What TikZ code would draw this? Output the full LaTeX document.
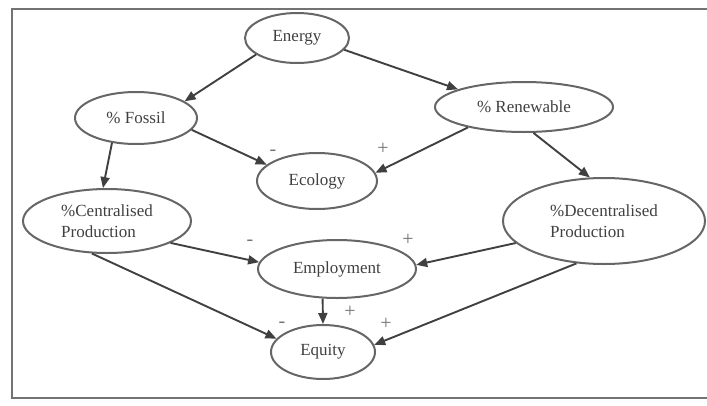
\documentclass[tikz,border=0pt]{standalone}
\usepackage{fontspec}
\setmainfont{Liberation Serif}
\usetikzlibrary{shapes.geometric,arrows.meta}

\begin{document}
\begin{tikzpicture}[x=1pt,y=-1pt,
        var/.style={ellipse,draw=black!60,line width=2pt,inner sep=0pt,
                text=black!75,font={\fontsize{17}{21}\selectfont},align=left},
        link/.style={draw=black!75,line width=1.9pt,-{Triangle[length=11pt,width=9pt]}},
        sign/.style={text=black!55,font={\fontsize{20}{20}\selectfont},inner sep=0pt}]
        \useasboundingbox (0,0) rectangle (707,405);
        \draw[black!55,line width=2.4pt] (707,9) -- (12,9) -- (12,398) -- (707,398);

        \node[var,minimum width=104pt,minimum height=50pt] (energy) at (297,38) {Energy};
        \node[var,minimum width=122pt,minimum height=52pt] (fossil) at (136,118) {\% Fossil};
        \node[var,minimum width=178pt,minimum height=50pt] (renew) at (524,107) {\% Renewable};
        \node[var,minimum width=120pt,minimum height=56pt] (ecology) at (317,181) {Ecology};
        \node[var,minimum width=168pt,minimum height=64pt] (central) at (107,221) {\%Centralised\\Production};
        \node[var,minimum width=202pt,minimum height=86pt] (decentral) at (604,221) {\%Decentralised\\Production};
        \node[var,minimum width=158pt,minimum height=58pt] (employ) at (337,269) {Employment};
        \node[var,minimum width=104pt,minimum height=54pt] (equity) at (323,352) {Equity};

        \draw[link] (energy.202) -- (fossil.19);
        \draw[link] (energy.346) -- (renew.165);
        \draw[link] (fossil.348) -- (ecology.162);
        \draw[link] (renew.200) -- (ecology.8);
        \draw[link] (renew.290) -- (decentral.108);
        \draw[link] (fossil.226) -- (central.97);
        \draw[link] (central.341) -- (employ.175);
        \draw[link] (decentral.194) -- (employ.3);
        \draw[link] (central.245) -- (equity.164);
        \draw[link] (decentral.237) -- (equity.8);
        \draw[link] (employ.244) -- (equity.90);

        \node[sign] (m1) at (273,153) {-};
        \node[sign] (p1) at (383,149) {+};
        \node[sign] (m2) at (250,243) {-};
        \node[sign] (p2) at (408,240) {+};
        \node[sign] (m3) at (282,325) {-};
        \node[sign] (p3) at (350,312) {+};
        \node[sign] (p4) at (386,324) {+};

        \end{tikzpicture}
\end{document}
